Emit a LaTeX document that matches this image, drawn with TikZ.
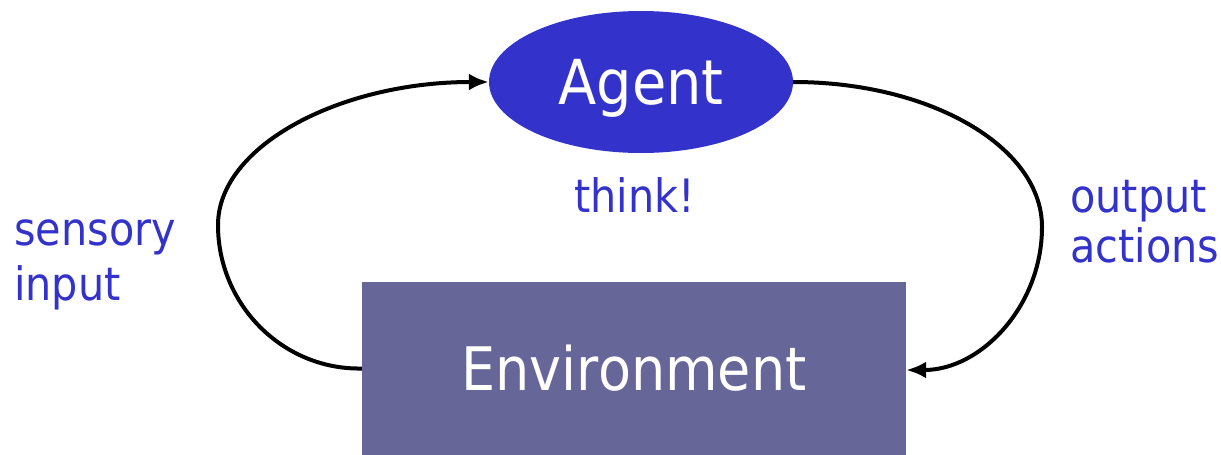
\documentclass[tikz,border=0pt]{standalone}
\usepackage{fontspec}
\setmainfont{DejaVu Sans}[FakeStretch=0.9]
\usetikzlibrary{arrows.meta,shapes.geometric}
\definecolor{agentblue}{HTML}{3333CC}
\definecolor{envpurple}{HTML}{666699}
\tikzset{
  agent/.style={ellipse, fill=agentblue, text=white, minimum width=304pt, minimum height=142pt,
    inner sep=0pt, text depth=0pt, font=\fontsize{62}{70}\selectfont},
  world/.style={rectangle, fill=envpurple, text=white, minimum width=544pt, minimum height=173pt,
    inner sep=0pt, font=\fontsize{60}{70}\selectfont},
  lbl/.style={text=agentblue, align=left, inner sep=0pt, anchor=base west},
  loop/.style={line width=4pt, -{Latex[length=20pt,width=17pt]}}
}
\begin{document}
\begin{tikzpicture}[x=1pt,y=-1pt]
\useasboundingbox (0,0) rectangle (1221,455);
% the agent and the world it lives in
\node[agent] (agent) at (641,82) {Agent};
\node[world] (env) at (634,368.5) {Environment};
% what goes round the loop (base = last line)
\node[lbl, font=\fontsize{46}{55}\selectfont] (sense) at (14,300) {sensory\\input};
\node[lbl, font=\fontsize{46}{50}\selectfont] (act) at (1070,262) {output\\actions};
\node[lbl, font=\fontsize{46}{55}\selectfont] (think) at (574,212) {think!};
% left loop: environment up to agent (two quarter ellipses)
\draw[loop] (env.west) .. controls (283,370) and (218,305) .. (218,225)
  .. controls (218,146) and (340,82) .. (agent.west);
% right loop: agent down to environment
\draw[loop] (agent.east) .. controls (931,82) and (1042,147) .. (1042,227)
  .. controls (1042,306) and (981,370) .. (env.east |- 0,370);
\end{tikzpicture}
\end{document}
